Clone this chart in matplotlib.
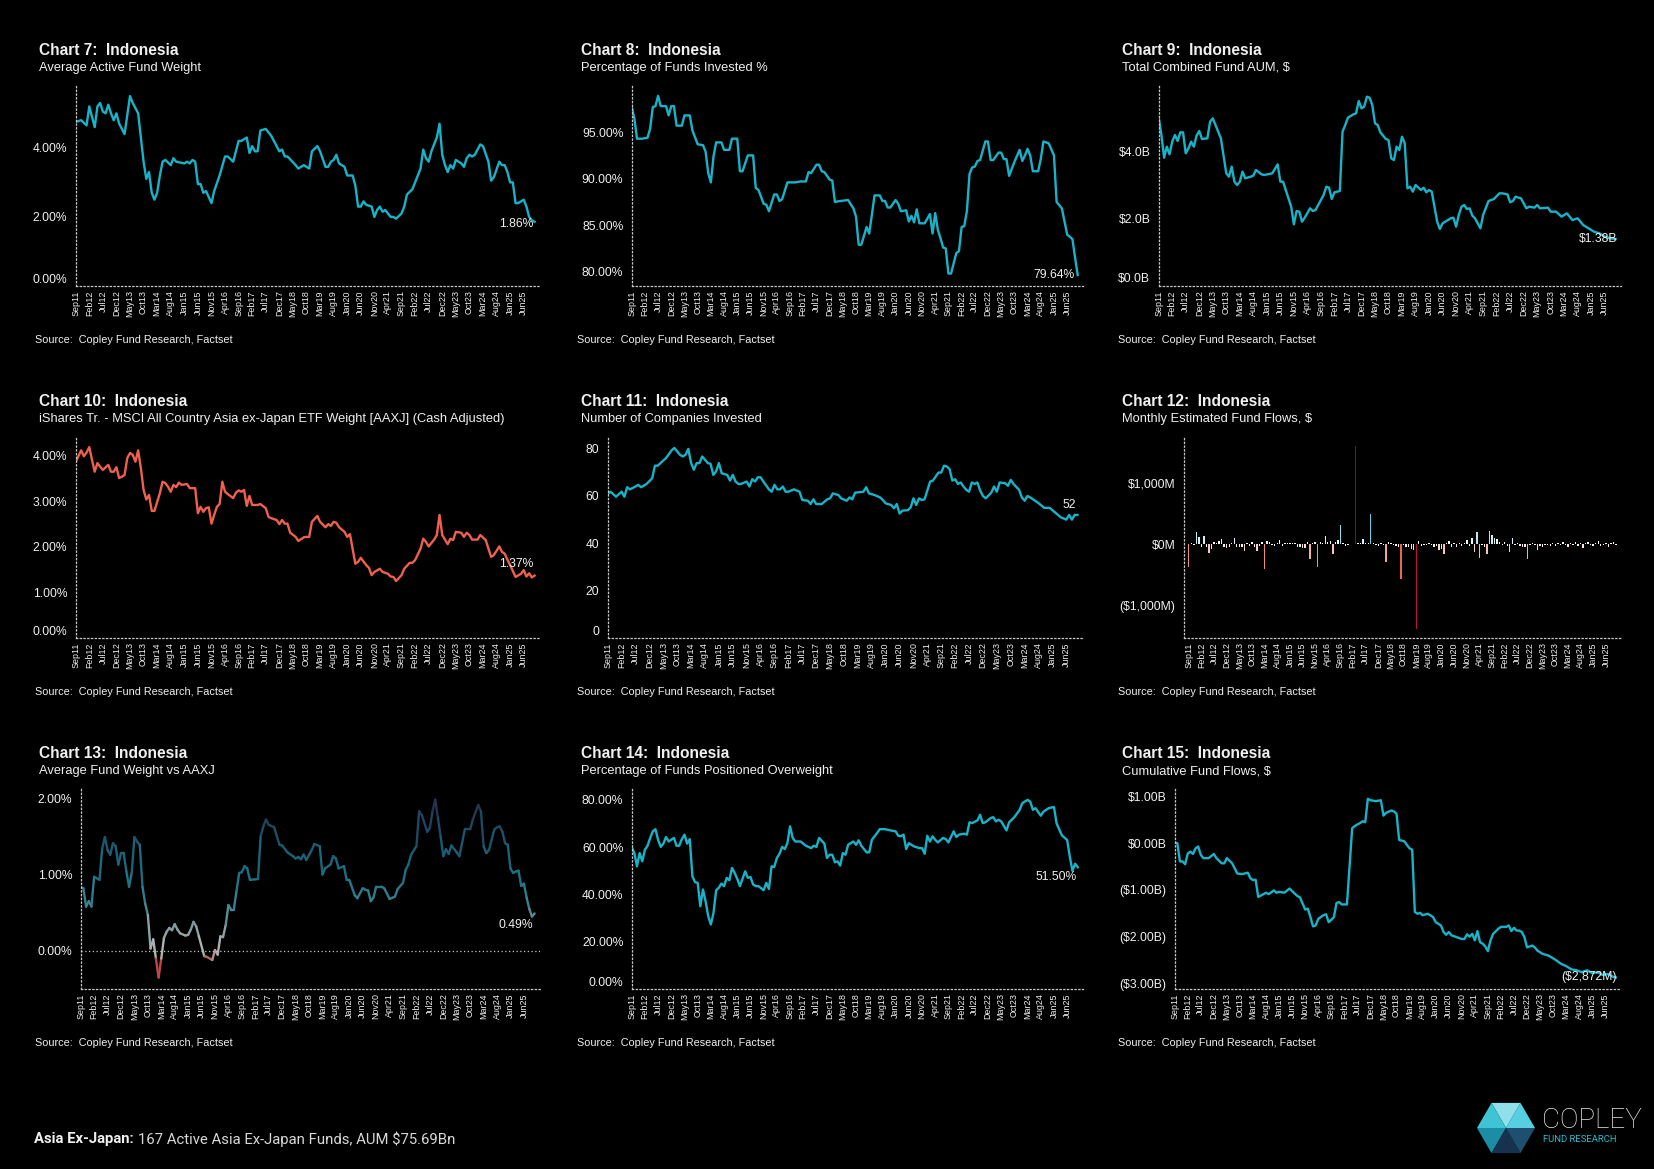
import numpy as np
import matplotlib.pyplot as plt
from matplotlib.collections import LineCollection
from matplotlib.colors import LinearSegmentedColormap, Normalize
from matplotlib.patches import Polygon

W, H = 1654, 1169
BG = '#000000'
FG = '#f0f0f0'
TEAL = '#17b4c9'
RED = '#f0604e'
SPINE = '#c8c8c8'

plt.rcParams['font.family'] = ['Liberation Sans', 'DejaVu Sans']

# month index 0 = Sep11, ticks every 5 months
tick_months = list(range(0, 166, 5))
tick_labels = ['Sep11', 'Feb12', 'Jul12', 'Dec12', 'May13', 'Oct13', 'Mar14', 'Aug14',
               'Jan15', 'Jun15', 'Nov15', 'Apr16', 'Sep16', 'Feb17', 'Jul17', 'Dec17',
               'May18', 'Oct18', 'Mar19', 'Aug19', 'Jan20', 'Jun20', 'Nov20', 'Apr21',
               'Sep21', 'Feb22', 'Jul22', 'Dec22', 'May23', 'Oct23', 'Mar24', 'Aug24',
               'Jan25', 'Jun25']

# Chart 7: average active fund weight (%)
c7_points = [(0, 4.75), (2, 4.8), (4, 4.65), (5, 5.2), (7, 4.6), (8, 5.2), (9, 5.3), (10, 5.05),
             (11, 5.0), (12, 5.25), (13, 5.0), (14, 4.8), (15, 5.0), (16, 4.7), (18, 4.4), (20, 5.5),
             (21, 5.3), (23, 5.0), (24, 4.3), (25, 3.6), (26, 3.1), (27, 3.3), (28, 2.7), (29, 2.5),
             (30, 2.7), (31, 3.2), (32, 3.6), (33, 3.65), (35, 3.5), (36, 3.7), (37, 3.6), (40, 3.55),
             (41, 3.6), (42, 3.55), (43, 3.65), (44, 3.6), (45, 2.95), (46, 2.95), (47, 2.7), (48, 2.75),
             (50, 2.4), (51, 2.75), (53, 3.2), (55, 3.75), (56, 3.75), (58, 3.6), (60, 4.2), (61, 4.2),
             (63, 4.3), (64, 3.85), (65, 4.05), (66, 3.9), (67, 3.9), (68, 4.5), (70, 4.55), (72, 4.35),
             (73, 4.2), (75, 3.9), (76, 3.95), (77, 3.75), (78, 3.75), (81, 3.5), (82, 3.4), (84, 3.5),
             (86, 3.4), (87, 3.9), (89, 4.05), (90, 3.9), (92, 3.45), (93, 3.45), (94, 3.6), (95, 3.65),
             (96, 3.8), (97, 3.55), (99, 3.45), (100, 3.2), (102, 3.2), (103, 2.9), (104, 2.3), (105, 2.3),
             (106, 2.45), (107, 2.35), (109, 2.3), (110, 2.0), (111, 2.2), (112, 2.3), (113, 2.15),
             (114, 2.2), (116, 2.0), (117, 2.0), (118, 1.95), (120, 2.1), (121, 2.3), (122, 2.65),
             (124, 2.8), (125, 3.0), (127, 3.4), (128, 3.95), (129, 3.7), (130, 3.6), (131, 3.9),
             (133, 4.3), (134, 4.7), (135, 3.8), (136, 3.5), (137, 3.3), (138, 3.5), (139, 3.4),
             (140, 3.65), (142, 3.55), (143, 3.45), (144, 3.7), (145, 3.8), (146, 3.75), (147, 3.8),
             (149, 4.1), (150, 4.05), (152, 3.6), (153, 3.05), (154, 3.15), (156, 3.6), (157, 3.5),
             (158, 3.5), (159, 3.3), (160, 3.0), (161, 3.0), (162, 2.4), (163, 2.4), (164, 2.45),
             (165, 2.5), (166, 2.3), (167, 2.0), (168, 1.9), (169, 1.86)]

# Chart 8: percentage of funds invested (%)
c8_points = [(0, 97.7), (1, 96.5), (2, 94.3), (4, 94.3), (6, 94.4), (7, 95.4), (8, 97.7), (9, 97.8),
             (10, 98.9), (11, 97.8), (13, 97.8), (14, 96.8), (15, 97.8), (16, 97.8), (17, 95.7),
             (19, 95.7), (20, 96.8), (22, 96.8), (23, 95.2), (25, 93.7), (27, 93.6), (28, 92.9),
             (29, 90.6), (30, 89.6), (31, 92.4), (32, 93.9), (34, 93.9), (35, 93.1), (37, 93.1),
             (38, 94.3), (40, 94.3), (41, 90.8), (42, 90.8), (44, 92.5), (46, 92.5), (47, 89.0),
             (48, 88.8), (50, 87.3), (51, 87.2), (52, 86.5), (54, 88.3), (55, 88.3), (56, 87.6),
             (57, 87.8), (59, 89.6), (62, 89.6), (64, 89.7), (66, 89.7), (67, 90.7), (68, 90.6),
             (70, 91.5), (71, 91.5), (72, 90.8), (73, 90.7), (75, 89.9), (76, 89.8), (77, 87.5),
             (79, 87.6), (82, 87.7), (84, 86.8), (85, 85.9), (86, 82.9), (87, 82.9), (89, 84.8),
             (90, 84.1), (91, 86.1), (92, 88.2), (94, 88.2), (95, 87.6), (96, 87.6), (97, 86.9),
             (98, 86.9), (100, 87.7), (101, 87.3), (102, 86.5), (104, 86.6), (105, 85.4), (106, 86.0),
             (107, 85.3), (108, 86.7), (109, 85.2), (111, 85.2), (113, 86.2), (114, 84.1), (115, 86.3),
             (116, 84.5), (117, 83.6), (118, 82.6), (119, 82.5), (120, 79.8), (121, 79.8), (123, 82.0),
             (124, 82.2), (125, 84.8), (126, 84.9), (127, 86.5), (128, 90.5), (129, 91.2), (130, 91.3),
             (131, 91.9), (132, 92.0), (134, 94.0), (135, 94.0), (136, 92.0), (137, 92.0), (139, 92.8),
             (140, 92.8), (141, 92.1), (142, 92.1), (143, 90.3), (145, 91.8), (147, 93.1), (148, 91.9),
             (149, 92.5), (150, 93.2), (151, 92.5), (152, 90.8), (154, 90.8), (155, 92.1), (156, 94.0),
             (158, 93.8), (160, 92.5), (161, 87.5), (163, 86.8), (165, 84.0), (167, 83.5), (168, 81.5),
             (169, 79.64)]

# Chart 9: total combined fund AUM ($B)
c9_points = [(0, 5.02), (1, 4.5), (2, 3.82), (3, 4.15), (4, 3.92), (5, 4.3), (6, 4.5), (7, 4.32),
             (8, 4.58), (9, 4.58), (10, 3.95), (11, 4.1), (12, 4.3), (13, 4.15), (14, 4.48), (15, 4.62),
             (16, 4.38), (18, 4.4), (19, 4.9), (20, 5.0), (21, 4.8), (23, 4.4), (25, 3.35), (26, 3.25),
             (27, 3.55), (28, 3.1), (29, 3.0), (30, 3.1), (31, 3.4), (32, 3.2), (34, 3.25), (35, 3.28),
             (36, 3.45), (38, 3.32), (39, 3.3), (42, 3.35), (44, 3.62), (45, 3.1), (46, 3.1), (47, 2.85),
             (48, 2.6), (49, 2.35), (50, 1.82), (51, 2.22), (52, 2.2), (53, 1.9), (54, 2.02), (56, 2.3),
             (57, 2.22), (58, 2.25), (59, 2.4), (61, 2.7), (62, 2.95), (63, 2.92), (64, 2.58), (65, 2.78),
             (67, 2.82), (68, 4.6), (69, 4.8), (70, 5.02), (72, 5.12), (73, 5.15), (74, 5.52), (75, 5.3),
             (76, 5.35), (77, 5.65), (78, 5.62), (79, 5.4), (80, 4.85), (81, 4.8), (82, 4.58), (84, 4.38),
             (85, 4.35), (86, 3.8), (87, 3.75), (88, 4.15), (89, 4.05), (90, 4.45), (91, 4.25), (92, 2.9),
             (93, 2.95), (94, 2.8), (95, 3.0), (97, 2.85), (98, 2.92), (99, 2.78), (100, 2.85), (101, 2.8),
             (103, 1.9), (104, 1.68), (105, 1.85), (106, 1.9), (108, 2.0), (109, 2.02), (110, 1.75),
             (111, 2.1), (112, 2.35), (113, 2.4), (114, 2.28), (115, 2.3), (116, 2.08), (117, 2.0),
             (119, 1.7), (120, 2.1), (122, 2.52), (123, 2.55), (124, 2.58), (126, 2.75), (127, 2.75),
             (129, 2.72), (130, 2.48), (131, 2.52), (132, 2.65), (134, 2.6), (136, 2.3), (137, 2.35),
             (139, 2.32), (140, 2.4), (141, 2.3), (144, 2.32), (145, 2.2), (147, 2.2), (149, 2.05),
             (151, 2.15), (153, 1.95), (155, 2.0), (157, 1.8), (159, 1.7), (161, 1.6), (163, 1.55),
             (165, 1.45), (167, 1.4), (169, 1.38)]

# Chart 10: AAXJ ETF weight (%)
c10_points = [(0, 3.87), (1, 3.99), (2, 4.12), (3, 3.99), (4, 4.07), (5, 4.19), (6, 3.91), (7, 3.65),
              (8, 3.84), (9, 3.76), (10, 3.69), (12, 3.80), (13, 3.65), (14, 3.65), (15, 3.75), (16, 3.51),
              (17, 3.54), (18, 3.58), (19, 3.95), (20, 4.06), (21, 4.02), (22, 3.87), (23, 4.12), (24, 3.73),
              (25, 3.25), (26, 3.04), (27, 3.14), (28, 2.79), (29, 2.79), (31, 3.18), (32, 3.43), (33, 3.40),
              (34, 3.32), (35, 3.21), (36, 3.36), (37, 3.31), (38, 3.41), (39, 3.36), (41, 3.38), (42, 3.29),
              (44, 3.29), (45, 2.74), (46, 2.88), (47, 2.77), (48, 2.85), (49, 2.87), (50, 2.51), (51, 2.70),
              (52, 2.88), (53, 2.94), (54, 3.43), (55, 3.21), (56, 3.16), (58, 3.07), (59, 3.19), (60, 3.24),
              (61, 3.21), (62, 3.25), (63, 2.90), (64, 3.12), (65, 2.92), (67, 2.92), (68, 2.94), (70, 2.85),
              (71, 2.66), (72, 2.63), (74, 2.59), (75, 2.50), (76, 2.59), (77, 2.51), (78, 2.51), (79, 2.31),
              (81, 2.22), (82, 2.13), (84, 2.21), (85, 2.22), (86, 2.22), (87, 2.55), (89, 2.68), (90, 2.55),
              (92, 2.43), (93, 2.50), (94, 2.46), (95, 2.55), (96, 2.53), (97, 2.43), (99, 2.33), (100, 2.22),
              (101, 2.28), (102, 1.96), (103, 1.63), (104, 1.67), (105, 1.76), (107, 1.60), (108, 1.54),
              (109, 1.38), (110, 1.45), (112, 1.52), (113, 1.45), (115, 1.41), (116, 1.35), (117, 1.34),
              (118, 1.25), (120, 1.38), (121, 1.52), (123, 1.65), (124, 1.65), (125, 1.71), (127, 1.96),
              (128, 2.18), (129, 2.11), (130, 2.01), (132, 2.16), (133, 2.26), (134, 2.70), (135, 2.26),
              (137, 2.06), (138, 2.18), (139, 2.15), (140, 2.33), (142, 2.31), (143, 2.22), (144, 2.31),
              (145, 2.26), (146, 2.16), (148, 2.16), (149, 2.26), (151, 2.15), (153, 1.78), (154, 1.82),
              (156, 2.01), (157, 1.89), (158, 1.85), (159, 1.72), (160, 1.60), (162, 1.34), (164, 1.41),
              (165, 1.49), (166, 1.35), (167, 1.42), (168, 1.33), (169, 1.37)]

# Chart 11: number of companies invested
c11_points = [(0, 60.9), (1, 61.8), (3, 59.7), (5, 61.8), (6, 59.7), (7, 63.7), (8, 62.8), (10, 64.0),
              (11, 64.7), (12, 63.7), (14, 65.1), (16, 67.5), (17, 72.8), (18, 72.8), (20, 75.0), (21, 76.0),
              (23, 79.3), (24, 80.3), (26, 77.4), (27, 76.7), (28, 77.4), (29, 79.9), (30, 73.9), (31, 71.1),
              (32, 73.9), (33, 73.9), (34, 76.7), (35, 75.3), (36, 73.9), (37, 73.6), (38, 68.9), (39, 70.4),
              (40, 73.9), (41, 69.6), (43, 68.9), (44, 66.5), (45, 68.9), (46, 66.1), (47, 65.1), (48, 65.1),
              (50, 66.1), (51, 64.0), (52, 67.1), (53, 66.1), (54, 67.9), (55, 67.9), (56, 66.1), (58, 62.8),
              (59, 61.8), (60, 64.7), (61, 62.8), (62, 62.8), (63, 64.0), (64, 61.8), (65, 61.8), (67, 62.8),
              (69, 61.8), (70, 58.3), (72, 58.0), (73, 56.6), (74, 58.6), (75, 56.6), (77, 56.6), (79, 58.6),
              (80, 59.0), (81, 61.1), (83, 60.4), (84, 59.0), (86, 58.0), (87, 59.4), (88, 58.6), (89, 61.4),
              (92, 61.8), (93, 63.7), (94, 61.1), (96, 60.4), (98, 59.4), (99, 58.3), (100, 56.9), (102, 56.2),
              (103, 54.8), (104, 56.6), (105, 52.6), (106, 53.8), (108, 54.0), (109, 55.2), (110, 59.0),
              (111, 56.2), (112, 59.0), (113, 58.3), (114, 58.6), (116, 66.1), (117, 66.5), (119, 69.9),
              (120, 69.9), (121, 72.8), (122, 72.5), (123, 71.3), (124, 66.5), (125, 67.1), (126, 65.1),
              (127, 65.7), (128, 64.0), (129, 62.6), (130, 61.8), (131, 65.7), (132, 65.1), (133, 65.7),
              (134, 62.3), (135, 60.0), (136, 59.0), (138, 61.4), (139, 64.0), (140, 61.8), (141, 65.7),
              (143, 65.4), (144, 64.3), (145, 66.8), (146, 65.1), (148, 62.6), (149, 59.4), (150, 58.0),
              (151, 60.0), (152, 59.4), (155, 57.0), (157, 55.0), (159, 55.0), (161, 53.0), (163, 51.0),
              (165, 50.0), (166, 52.0), (167, 50.0), (168, 52.0), (169, 52.0)]

# Chart 12: monthly estimated fund flows ($M), one value per month from Sep11
c12_flows = [-381, 10, -20, 190, 120, -44, 130, -55, -140, -87,
             27, 22, 50, 76, -44, -70, -44, 22, 93, -44,
             -55, -44, -120, 22, -33, 33, -44, -120, -33, 38,
             -403, 44, 33, -16, -33, 11, 60, -33, 11, 11,
             22, 22, 22, -55, -55, -66, -70, 33, -250, 22,
             33, -370, 38, 11, 130, 33, 50, -164, 38, 66,
             310, 22, -33, -22, 5, 5, 1602, 22, 22, 87,
             22, 22, 490, 22, -22, -33, 11, -11, -290, 33,
             22, -11, -33, -44, -567, -16, -44, -55, -87, -98,
             -1384, 50, -33, -11, -22, 11, -22, -44, -33, -98,
             -87, -164, 22, 50, -44, 11, -44, 11, -33, 22,
             65, -33, 93, -125, 196, -223, -22, -44, -164, 218,
             147, 93, 76, 33, -11, 33, -33, -125, 104, -11,
             22, -33, -44, -44, -250, -22, 22, -11, -98, -33,
             -44, -22, -11, -30, 20, -40, 10, -20, 30, -10,
             -50, 20, -20, 40, -30, 10, -60, 20, 30, -20,
             -40, 10, 50, -30, -20, 20, -50, 10, 30, -20]

# Chart 13: average fund weight vs AAXJ (%)
c13_points = [(0, 0.83), (1, 0.82), (2, 0.58), (3, 0.65), (4, 0.58), (5, 0.97), (7, 0.93), (8, 1.34),
              (9, 1.49), (10, 1.32), (11, 1.26), (12, 1.41), (13, 1.37), (14, 1.13), (15, 1.28), (16, 1.28),
              (17, 1.04), (18, 0.84), (19, 1.02), (20, 1.49), (21, 1.43), (22, 1.39), (23, 0.84), (24, 0.62),
              (25, 0.47), (26, 0.03), (27, 0.15), (28, -0.1), (29, -0.35), (30, -0.1), (31, 0.17), (32, 0.25),
              (33, 0.30), (34, 0.27), (35, 0.35), (36, 0.28), (37, 0.23), (39, 0.20), (40, 0.21), (41, 0.28),
              (42, 0.38), (43, 0.32), (44, 0.19), (46, -0.07), (47, -0.08), (49, -0.12), (50, 0.01),
              (51, -0.05), (52, 0.19), (53, 0.18), (54, 0.34), (55, 0.60), (56, 0.54), (57, 0.54), (58, 0.78),
              (59, 1.02), (60, 1.03), (61, 1.11), (62, 1.08), (63, 0.93), (66, 0.94), (67, 1.50), (68, 1.63),
              (69, 1.72), (70, 1.65), (72, 1.62), (74, 1.39), (75, 1.38), (77, 1.29), (79, 1.24), (80, 1.21),
              (81, 1.23), (82, 1.20), (83, 1.26), (84, 1.19), (86, 1.32), (87, 1.40), (89, 1.37), (90, 1.00),
              (91, 1.08), (93, 1.13), (94, 1.24), (95, 1.21), (96, 1.08), (98, 1.11), (99, 0.93), (100, 0.93),
              (102, 0.73), (103, 0.69), (105, 0.82), (106, 0.80), (107, 0.79), (108, 0.65), (109, 0.70),
              (110, 0.84), (112, 0.84), (113, 0.82), (115, 0.68), (117, 0.71), (118, 0.81), (120, 0.89),
              (121, 1.06), (122, 1.13), (123, 1.26), (125, 1.37), (126, 1.83), (127, 1.78), (129, 1.56),
              (130, 1.61), (131, 1.83), (132, 1.98), (133, 1.74), (134, 1.50), (135, 1.24), (136, 1.33),
              (137, 1.27), (138, 1.38), (140, 1.29), (141, 1.24), (143, 1.59), (145, 1.59), (146, 1.72),
              (148, 1.91), (149, 1.83), (150, 1.37), (151, 1.28), (152, 1.32), (154, 1.59), (155, 1.62),
              (156, 1.63), (157, 1.56), (158, 1.41), (159, 1.39), (160, 1.08), (161, 1.02), (162, 1.04),
              (163, 1.05), (164, 0.85), (165, 0.88), (166, 0.70), (167, 0.55), (168, 0.45), (169, 0.49)]

# Chart 14: percentage of funds positioned overweight (%)
c14_points = [(0, 60.1), (1, 57.5), (2, 51.9), (3, 57.5), (4, 54.0), (5, 58.9), (6, 60.6), (7, 63.9),
              (8, 66.7), (9, 67.6), (10, 63.1), (11, 60.1), (12, 61.5), (13, 64.3), (14, 62.4), (16, 63.9),
              (17, 60.6), (18, 60.6), (19, 63.4), (20, 65.3), (21, 61.5), (22, 63.4), (23, 47.7), (24, 45.2),
              (25, 44.9), (26, 35.0), (27, 42.1), (28, 37.1), (29, 30.8), (30, 27.3), (31, 32.2), (32, 41.8),
              (33, 42.8), (34, 44.6), (35, 43.5), (36, 47.0), (37, 46.0), (38, 51.2), (39, 49.1), (40, 46.6),
              (41, 43.5), (43, 49.8), (44, 47.0), (45, 47.4), (46, 44.2), (47, 43.5), (48, 43.5), (50, 41.8),
              (51, 44.9), (52, 42.3), (53, 51.9), (54, 51.6), (55, 55.4), (56, 57.2), (57, 60.1), (58, 59.2),
              (59, 61.7), (60, 68.8), (61, 63.9), (62, 62.4), (64, 62.4), (66, 60.6), (68, 59.6), (69, 60.6),
              (70, 60.1), (71, 63.9), (73, 61.5), (74, 55.4), (75, 56.8), (76, 56.8), (77, 53.6), (78, 54.0),
              (79, 52.2), (80, 57.5), (81, 56.8), (82, 61.0), (84, 62.4), (85, 61.0), (86, 62.9), (87, 60.6),
              (89, 57.8), (90, 57.8), (91, 63.1), (93, 66.0), (94, 67.6), (96, 67.6), (98, 67.1), (100, 66.7),
              (101, 64.8), (102, 64.6), (103, 65.3), (104, 59.2), (105, 61.7), (106, 61.0), (107, 60.3),
              (109, 59.6), (110, 59.6), (111, 57.2), (112, 64.8), (113, 62.4), (114, 64.6), (115, 63.1),
              (116, 62.0), (118, 63.9), (119, 63.4), (120, 62.0), (122, 66.7), (123, 64.3), (124, 65.3),
              (126, 65.7), (127, 65.3), (128, 70.5), (129, 70.2), (131, 71.3), (132, 73.7), (133, 70.2),
              (134, 70.5), (136, 72.3), (137, 72.7), (138, 70.9), (139, 71.6), (140, 70.9), (142, 67.1),
              (143, 70.5), (145, 72.7), (147, 75.8), (148, 78.6), (150, 80.0), (151, 79.3), (152, 75.8),
              (153, 76.5), (155, 73.3), (156, 75.0), (158, 76.5), (160, 77.0), (161, 70.0), (163, 65.0),
              (165, 63.0), (166, 56.0), (167, 50.0), (168, 53.0), (169, 51.5)]

# Chart 15: cumulative fund flows ($B)
c15_points = [(0, 0.01), (1, 0.0), (2, -0.39), (3, -0.39), (4, -0.45), (5, -0.22), (6, -0.18), (7, -0.23),
              (8, -0.11), (9, -0.07), (10, -0.25), (11, -0.32), (13, -0.32), (15, -0.23), (16, -0.32),
              (18, -0.43), (19, -0.43), (20, -0.32), (22, -0.43), (23, -0.54), (24, -0.65), (26, -0.66),
              (28, -0.63), (29, -0.75), (30, -0.79), (31, -0.78), (32, -1.15), (34, -1.09), (35, -1.06),
              (36, -1.09), (38, -1.01), (39, -1.06), (40, -1.04), (42, -1.06), (44, -0.97), (46, -1.08),
              (47, -1.13), (48, -1.16), (50, -1.42), (51, -1.40), (52, -1.58), (53, -1.78), (54, -1.76),
              (55, -1.62), (57, -1.54), (58, -1.52), (59, -1.69), (60, -1.64), (61, -1.58), (62, -1.28),
              (63, -1.26), (64, -1.31), (66, -1.31), (68, 0.32), (69, 0.37), (71, 0.43), (72, 0.47),
              (73, 0.45), (74, 0.95), (75, 0.92), (77, 0.90), (79, 0.92), (80, 0.59), (81, 0.65), (83, 0.70),
              (84, 0.68), (85, 0.63), (86, 0.07), (88, 0.04), (89, -0.04), (90, -0.11), (91, -0.14),
              (92, -1.47), (93, -1.51), (94, -1.49), (95, -1.54), (97, -1.51), (99, -1.58), (100, -1.69),
              (102, -1.76), (103, -1.90), (104, -1.96), (105, -1.90), (106, -1.97), (108, -2.01), (110, -2.05),
              (111, -2.05), (112, -1.95), (113, -2.00), (114, -1.94), (115, -2.08), (116, -1.88), (117, -2.12),
              (118, -2.15), (119, -2.21), (120, -2.31), (121, -2.08), (122, -1.94), (124, -1.83), (125, -1.79),
              (127, -1.79), (128, -1.76), (129, -1.88), (130, -1.81), (131, -1.87), (132, -1.87), (133, -1.90),
              (134, -2.01), (135, -2.23), (137, -2.19), (138, -2.23), (139, -2.30), (141, -2.37), (143, -2.40),
              (144, -2.43), (146, -2.50), (148, -2.58), (150, -2.63), (152, -2.70), (154, -2.72), (156, -2.76),
              (158, -2.72), (160, -2.78), (162, -2.76), (164, -2.82), (166, -2.80), (168, -2.86), (169, -2.872)]


fig = plt.figure(figsize=(W / 100, H / 100), dpi=100, facecolor=BG)

# overlay in pixel coordinates for titles, sources, footer and logo
ov = fig.add_axes([0, 0, 1, 1])
ov.set_xlim(0, W)
ov.set_ylim(H, 0)
ov.axis('off')
ov.set_zorder(-1)


def px_axes(left, top, right, bottom):
    return fig.add_axes([left / W, 1 - bottom / H, (right - left) / W, (bottom - top) / H])


def style(ax, ylim, yticks, ylabels, xlim=(0, 171), shift_bottom=False):
    ax.set_facecolor(BG)
    ax.set_xlim(*xlim)
    ax.set_ylim(*ylim)
    for s in ['top', 'right']:
        ax.spines[s].set_visible(False)
    for s in ['left', 'bottom']:
        ax.spines[s].set_linestyle((0, (1, 2)))
        ax.spines[s].set_color(SPINE)
        ax.spines[s].set_linewidth(0.9)
    ax.set_xticks(tick_months, labels=tick_labels, rotation=90, fontsize=6.4, color=FG)
    ax.set_yticks(yticks, labels=ylabels, fontsize=8.7, color=FG)
    ax.tick_params(axis='both', length=0)
    ax.tick_params(axis='y', pad=6)
    ax.tick_params(axis='x', pad=3)
    if shift_bottom:
        ax.get_yticklabels()[0].set_va('bottom')


def unpack(points):
    m = np.array([p[0] for p in points])
    v = np.array([p[1] for p in points])
    return m, v


def end_label(ax, m, v, text, dx, dy):
    ax.annotate(text, xy=(m[-1], v[-1]), xytext=(dx, dy), textcoords='offset points',
                ha='right', va='center', fontsize=8.7, color=FG)


def header(x, y, title, subtitle, src_x, src_y):
    ov.text(x, y, title, fontsize=11.2, fontweight='bold', color=FG, ha='left', va='center')
    ov.text(x, y + 17, subtitle, fontsize=9.3, color=FG, ha='left', va='center')
    ov.text(src_x, src_y, 'Source:  Copley Fund Research, Factset', fontsize=7.8, color=FG,
            ha='left', va='center')


rows = [(85, 286), (438, 638), (789, 989)]
rights = [540, 1083, 1621]
title_x = [39, 581, 1122]
src_x = [35, 577, 1118]
title_y = [50.5, 402, 754]
src_y = [340, 692, 1043]
subtitles = {7: 'Average Active Fund Weight', 8: 'Percentage of Funds Invested %',
             9: 'Total Combined Fund AUM, $',
             10: 'iShares Tr. - MSCI All Country Asia ex-Japan ETF Weight [AAXJ] (Cash Adjusted)',
             11: 'Number of Companies Invested', 12: 'Monthly Estimated Fund Flows, $',
             13: 'Average Fund Weight vs AAXJ', 14: 'Percentage of Funds Positioned Overweight',
             15: 'Cumulative Fund Flows, $'}

for r in range(3):
    for c in range(3):
        n = 7 + r * 3 + c
        header(title_x[c], title_y[r], f'Chart {n}:  Indonesia', subtitles[n], src_x[c], src_y[r])

# ---- Chart 7
ax = px_axes(75.7, rows[0][0], rights[0], rows[0][1])
m, v = unpack(c7_points)
ax.plot(m, v, color=TEAL, lw=1.7)
style(ax, (0, 5.82), [0, 2, 4], ['0.00%', '2.00%', '4.00%'], shift_bottom=True)
end_label(ax, m, v, '1.86%', -1, -1.5)

# ---- Chart 8
ax = px_axes(631.7, rows[0][0], rights[1], rows[0][1])
m, v = unpack(c8_points)
ax.plot(m, v, color=TEAL, lw=1.7)
style(ax, (78.46, 100.07), [80, 85, 90, 95], ['80.00%', '85.00%', '90.00%', '95.00%'])
end_label(ax, m, v, '79.64%', -2, 0)

# ---- Chart 9
ax = px_axes(1158.7, rows[0][0], rights[2], rows[0][1])
m, v = unpack(c9_points)
ax.plot(m, v, color=TEAL, lw=1.7)
style(ax, (-0.03, 6.0), [0, 2, 4], ['$0.0B', '$2.0B', '$4.0B'], shift_bottom=True)
end_label(ax, m, v, '$1.38B', 1, 0)

# ---- Chart 10
ax = px_axes(75.7, rows[1][0], rights[0], rows[1][1])
m, v = unpack(c10_points)
ax.plot(m, v, color=RED, lw=1.7)
style(ax, (0, 4.39), [0, 1, 2, 3, 4], ['0.00%', '1.00%', '2.00%', '3.00%', '4.00%'],
      shift_bottom=True)
end_label(ax, m, v, '1.37%', -1, 8)

# ---- Chart 11
ax = px_axes(607.7, rows[1][0], rights[1], rows[1][1])
m, v = unpack(c11_points)
ax.plot(m, v, color=TEAL, lw=1.7)
style(ax, (0, 84.5), [0, 20, 40, 60, 80], ['0', '20', '40', '60', '80'], shift_bottom=True)
end_label(ax, m, v, '52', -1, 7.5)

# ---- Chart 12
ax = px_axes(1183.7, rows[1][0], rights[2], rows[1][1])
flows = np.array(c12_flows, dtype=float)
months = np.arange(len(flows))
flow_cmap = LinearSegmentedColormap.from_list('flows', [
    (0.0, '#bf1038'), (0.267, '#f0584c'), (0.35, '#f3968f'), (0.42, '#f6c9c6'),
    (0.467, '#ffffff'), (0.52, '#c4eef4'), (0.58, '#7fd8e6'), (0.65, '#4fcde0'),
    (1.0, '#2b2f55')])
flow_norm = Normalize(-1400, 1600)
ax.bar(months, flows, width=0.55, color=flow_cmap(flow_norm(flows)))
style(ax, (-1531, 1728), [-1000, 0, 1000], ['($1,000M)', '$0M', '$1,000M'], xlim=(-2, 171))

# ---- Chart 13 (colour follows the value)
ax = px_axes(80.7, rows[2][0], rights[0], rows[2][1])
m, v = unpack(c13_points)
pts = np.column_stack([m, v])
segs = np.stack([pts[:-1], pts[1:]], axis=1)
gap_cmap = LinearSegmentedColormap.from_list('gap', [
    (0.0, '#d42a2a'), (0.1, '#a8625a'), (0.149, '#b4b4b4'), (0.27, '#8a9ea2'),
    (0.39, '#3f8692'), (0.55, '#1c7486'), (0.75, '#1a5870'), (1.0, '#262b4c')])
gap_norm = Normalize(-0.35, 2.0)
lc = LineCollection(segs, colors=gap_cmap(gap_norm((v[:-1] + v[1:]) / 2)), linewidths=1.7,
                    capstyle='round', joinstyle='round')
ax.add_collection(lc)
ax.axhline(0, color=SPINE, lw=0.9, ls=(0, (1, 2)))
style(ax, (-0.50, 2.12), [0, 1, 2], ['0.00%', '1.00%', '2.00%'])
end_label(ax, m, v, '0.49%', -1, -8)

# ---- Chart 14
ax = px_axes(631.7, rows[2][0], rights[1], rows[2][1])
m, v = unpack(c14_points)
ax.plot(m, v, color=TEAL, lw=1.7)
style(ax, (0, 84.6), [0, 20, 40, 60, 80], ['0.00%', '20.00%', '40.00%', '60.00%', '80.00%'],
      shift_bottom=True)
end_label(ax, m, v, '51.50%', -1, -7)

# ---- Chart 15
ax = px_axes(1174.7, rows[2][0], rights[2], rows[2][1])
m, v = unpack(c15_points)
ax.plot(m, v, color=TEAL, lw=1.7)
style(ax, (-3.12, 1.16), [-3, -2, -1, 0, 1],
      ['($3.00B)', '($2.00B)', '($1.00B)', '$0.00B', '$1.00B'])
end_label(ax, m, v, '($2,872M)', 1, 0)

# ---- footer
renderer = fig.canvas.get_renderer()
t = ov.text(34, 1139, 'Asia Ex-Japan:', fontsize=10.7, fontweight='bold', color=FG,
            family=['Roboto', 'DejaVu Sans'], ha='left', va='center')
bb = t.get_window_extent(renderer)
ov.text(34 + bb.width + 4, 1139, '167 Active Asia Ex-Japan Funds, AUM $75.69Bn', fontsize=10.7,
        color='#d8d8d8', family=['Roboto', 'DejaVu Sans'], ha='left', va='center')

# ---- logo
cx, cy, R = 1506, 1128, 29
hex_colors = ['#55d0e0', '#8fe0ea', '#3fc4d6', '#1b8ea6', '#17324f', '#1d4f6e']
for k in range(6):
    a0 = np.deg2rad(60 * k)
    a1 = np.deg2rad(60 * (k + 1))
    tri = [(cx, cy), (cx + R * np.cos(a0), cy - R * np.sin(a0)), (cx + R * np.cos(a1), cy - R * np.sin(a1))]
    ov.add_patch(Polygon(tri, closed=True, facecolor=hex_colors[k], edgecolor='none'))
ov.text(1542, 1120, 'COPLEY', fontsize=20, color='#e6e6e6', fontweight='light',
        family=['Roboto', 'DejaVu Sans'], ha='left', va='center')
ov.text(1543, 1140, 'FUND RESEARCH', fontsize=6.8, color='#2bbcd0',
        family=['Roboto', 'DejaVu Sans'], ha='left', va='center')

fig.savefig('out.png', dpi=100, facecolor=BG)
